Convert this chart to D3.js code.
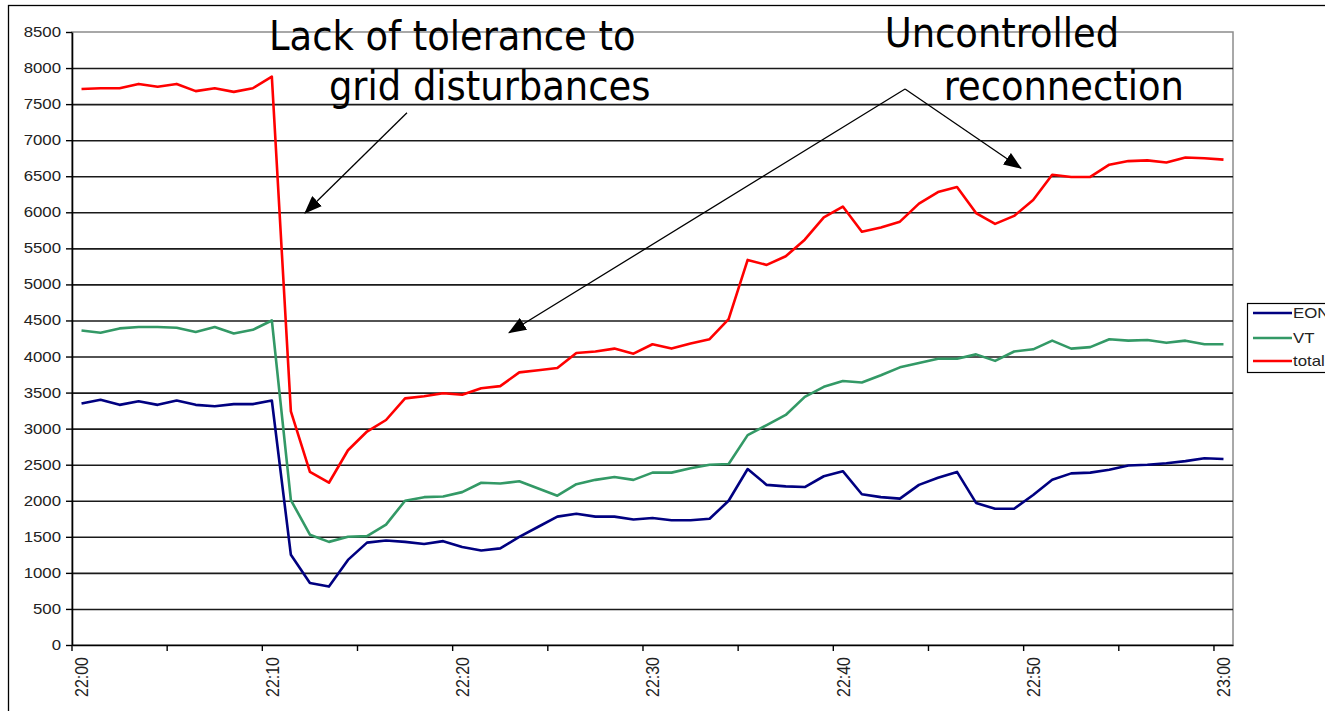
<!DOCTYPE html>
<html>
<head>
<meta charset="utf-8">
<script src="https://cdn.jsdelivr.net/npm/d3@7"></script>
<style>
  html, body { margin: 0; padding: 0; background: #fff; }
  svg { display: block; }
  .tick-label { font-family: "Liberation Sans", Arial, sans-serif; fill: #222; }
  .note { font-family: "DejaVu Sans Condensed", "DejaVu Sans", sans-serif; font-stretch: condensed; font-size: 41px; fill: #000; }
</style>
</head>
<body>
<svg id="chart" width="1325" height="711"></svg>
<script>
// One sample per minute, 22:00 … 23:00
const minutes = [
  "22:00","22:01","22:02","22:03","22:04","22:05","22:06","22:07","22:08","22:09",
  "22:10","22:11","22:12","22:13","22:14","22:15","22:16","22:17","22:18","22:19",
  "22:20","22:21","22:22","22:23","22:24","22:25","22:26","22:27","22:28","22:29",
  "22:30","22:31","22:32","22:33","22:34","22:35","22:36","22:37","22:38","22:39",
  "22:40","22:41","22:42","22:43","22:44","22:45","22:46","22:47","22:48","22:49",
  "22:50","22:51","22:52","22:53","22:54","22:55","22:56","22:57","22:58","22:59",
  "23:00"
];

const eon = [
  3350,3400,3330,3380,3330,3390,3330,3310,3340,3340,
  3390,1250,860,810,1180,1420,1450,1430,1400,1440,
  1360,1310,1340,1500,1640,1780,1820,1780,1780,1740,
  1760,1730,1730,1750,2000,2440,2220,2200,2190,2340,
  2410,2090,2050,2030,2220,2320,2400,1970,1890,1890,
  2080,2290,2380,2390,2430,2490,2500,2520,2550,2590,
  2580
];

const vt = [
  4360,4330,4390,4410,4410,4400,4340,4410,4320,4370,
  4500,2010,1530,1430,1500,1510,1670,2000,2050,2060,
  2120,2250,2240,2270,2170,2070,2230,2290,2330,2290,
  2390,2390,2450,2500,2510,2910,3050,3190,3440,3580,
  3660,3640,3740,3850,3910,3970,3970,4030,3940,4070,
  4100,4220,4110,4130,4240,4220,4230,4190,4220,4170,
  4170
];

const total = [
  7710,7720,7720,7780,7740,7780,7680,7720,7670,7720,
  7880,3240,2400,2250,2700,2960,3120,3420,3450,3490,
  3470,3560,3590,3780,3810,3840,4050,4070,4110,4040,
  4170,4110,4180,4240,4520,5340,5270,5390,5620,5930,
  6080,5730,5790,5870,6120,6280,6350,5990,5840,5950,
  6170,6520,6490,6490,6660,6710,6720,6690,6760,6750,
  6730
];

const seriesNames = ["EON", "VT", "total"];
const seriesColors = ["#000080", "#339966", "#ff0000"];
const yTicks = [0,500,1000,1500,2000,2500,3000,3500,4000,4500,5000,5500,6000,6500,7000,7500,8000,8500];
const xTickMinutes = minutes.filter((d, i) => i % 5 === 0);
const xLabelMinutes = ["22:00","22:10","22:20","22:30","22:40","22:50","23:00"];

// Annotations: [minute position, value]
const notes = [
  { lines: ["Lack of tolerance to", "grid disturbances"], at: [[10.35, 8250], [13.5, 7560]] },
  { lines: ["Uncontrolled", "reconnection"], at: [[42.7, 8290], [45.8, 7560]] }
];
const arrows = [
  { from: [17.6, 7380], to: [12.24, 5990] },
  { from: [43.77, 7710], to: [22.96, 4330] },
  { from: [43.77, 7710], to: [49.86, 6610] }
];

// ---- layout ----
const svg = d3.select("#chart");
const plot = { left: 72, right: 1233, top: 32, bottom: 645 };

const x = d3.scaleBand().domain(minutes).range([plot.left, plot.right]).padding(0);
const bw = x.bandwidth();
const xPos = d3.scaleLinear().domain([0, minutes.length]).range([plot.left, plot.right]);
const y = d3.scaleLinear().domain([0, 8500]).range([plot.bottom, plot.top]);

// outer frame
svg.append("rect")
  .attr("x", 8.5).attr("y", 5.5).attr("width", 1500).attr("height", 900)
  .attr("fill", "#fff").attr("stroke", "#000").attr("stroke-width", 1.3);

// plot area border
svg.append("rect")
  .attr("x", plot.left).attr("y", plot.top)
  .attr("width", plot.right - plot.left).attr("height", plot.bottom - plot.top)
  .attr("fill", "#fff").attr("stroke", "#8c8c8c").attr("stroke-width", 1.5);

// horizontal gridlines
svg.append("g")
  .attr("transform", `translate(${plot.left},0)`)
  .call(d3.axisLeft(y).tickValues(yTicks.filter(v => v > 0 && v < 8500))
    .tickSize(-(plot.right - plot.left)).tickFormat(""))
  .call(g => g.select(".domain").remove())
  .call(g => g.selectAll("line").attr("stroke", "#1a1a1a").attr("stroke-width", 1.6));

// y axis
svg.append("g")
  .attr("transform", `translate(${plot.left},0)`)
  .call(d3.axisLeft(y).tickValues(yTicks).tickSize(6).tickSizeOuter(0).tickFormat(d3.format("d")))
  .call(g => g.select(".domain").attr("stroke", "#000").attr("stroke-width", 1.6))
  .call(g => g.selectAll(".tick line").attr("stroke", "#000").attr("stroke-width", 1.4))
  .call(g => g.selectAll(".tick text")
    .attr("class", "tick-label")
    .attr("font-size", 14)
    .attr("x", -11 / 1.2)
    .attr("transform", "scale(1.2,1)"));

// x axis: ticks on minute boundaries every 5 min, labels centred every 10 min
svg.append("g")
  .attr("transform", `translate(0,${plot.bottom})`)
  .call(d3.axisBottom(x).tickValues(xTickMinutes).tickSize(6).tickSizeOuter(0))
  .call(g => g.select(".domain").attr("stroke", "#000").attr("stroke-width", 1.6))
  .call(g => g.selectAll(".tick line").attr("x1", -bw / 2).attr("x2", -bw / 2)
    .attr("stroke", "#000").attr("stroke-width", 1.4))
  .call(g => g.selectAll(".tick text")
    .text(d => xLabelMinutes.includes(d) ? d : "")
    .attr("class", "tick-label")
    .attr("font-size", 16)
    .attr("x", 0).attr("y", 0)
    .attr("dy", "0.35em")
    .attr("text-anchor", "end")
    .attr("transform", "translate(0,12) scale(1.2,1) rotate(-90)"));

// series lines
const seriesData = [eon, vt, total];
const line = d3.line()
  .x((d, i) => x(minutes[i]) + bw / 2)
  .y(d => y(d));

svg.append("g").selectAll("path")
  .data(seriesData)
  .join("path")
  .attr("d", d => line(d))
  .attr("fill", "none")
  .attr("stroke", (d, i) => seriesColors[i])
  .attr("stroke-width", 2.6)
  .attr("stroke-linejoin", "round");

// annotation arrows
const defs = svg.append("defs");
defs.append("marker")
  .attr("id", "head")
  .attr("markerUnits", "userSpaceOnUse")
  .attr("viewBox", "0 0 18 14")
  .attr("markerWidth", 18).attr("markerHeight", 14)
  .attr("refX", 17).attr("refY", 7)
  .attr("orient", "auto")
  .append("path").attr("d", "M0,0 L18,7 L0,14 Z").attr("fill", "#000");

svg.append("g").selectAll("line")
  .data(arrows)
  .join("line")
  .attr("x1", d => xPos(d.from[0])).attr("y1", d => y(d.from[1]))
  .attr("x2", d => xPos(d.to[0])).attr("y2", d => y(d.to[1]))
  .attr("stroke", "#000").attr("stroke-width", 1.3)
  .attr("marker-end", "url(#head)");

// annotation text
const noteG = svg.append("g");
notes.forEach(n => {
  n.lines.forEach((t, k) => {
    noteG.append("text").attr("class", "note")
      .attr("x", xPos(n.at[k][0])).attr("y", y(n.at[k][1]))
      .text(t);
  });
});

// legend
const legend = svg.append("g").attr("transform", "translate(1247,303)");
legend.append("rect")
  .attr("x", 0.5).attr("y", 0.5).attr("width", 120).attr("height", 69)
  .attr("fill", "#fff").attr("stroke", "#000").attr("stroke-width", 1.2);
const rows = [10, 35, 58];
seriesNames.forEach((name, i) => {
  legend.append("line")
    .attr("x1", 6).attr("x2", 45).attr("y1", rows[i]).attr("y2", rows[i])
    .attr("stroke", seriesColors[i]).attr("stroke-width", 2.6);
  legend.append("text")
    .attr("class", "tick-label")
    .attr("font-size", 14)
    .attr("transform", `translate(46,${rows[i]}) scale(1.2,1)`)
    .attr("dy", "0.35em")
    .text(name);
});
</script>
</body>
</html>
